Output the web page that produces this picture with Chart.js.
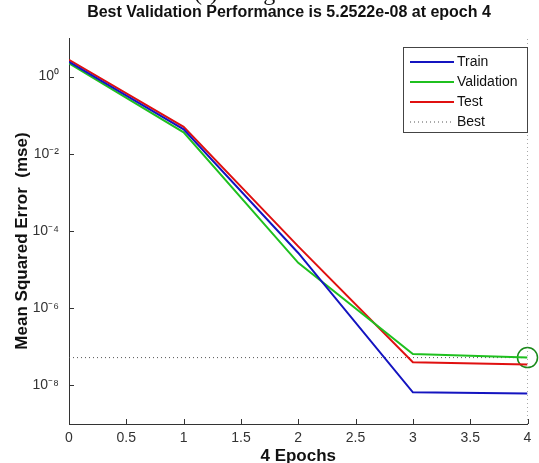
<!DOCTYPE html>
<html>
<head>
<meta charset="utf-8">
<script src="https://cdn.jsdelivr.net/npm/chart.js@4.4.1/dist/chart.umd.min.js"></script>
<style>
  html, body { margin: 0; padding: 0; background: #fff; overflow: hidden; }
  #wrap { width: 539px; height: 463px; position: relative; }
  #perfChart { display: block; }
</style>
</head>
<body>
<div id="wrap"><canvas id="perfChart"></canvas></div>
<script>
  // values
  const epochs = [0, 1, 2, 3, 4];
  const trainMse = [2.4, 0.043, 2.7e-5, 6.6e-9, 6.2e-9];
  const validationMse = [2.2, 0.036, 1.5e-5, 6.5e-8, 5.2522e-8];
  const testMse = [2.7, 0.05, 4.0e-5, 4.0e-8, 3.5e-8];
  const bestEpoch = 4;
  const bestPerf = 5.2522e-8;
  const xTicks = [0, 0.5, 1, 1.5, 2, 2.5, 3, 3.5, 4];
  const yTicks = [1e-8, 1e-6, 1e-4, 1e-2, 1];
  const yTickLabels = ["10⁻⁸", "10⁻⁶", "10⁻⁴", "10⁻²", "10⁰"];

  const toPoints = (xs, ys) => xs.map((x, i) => ({ x: x, y: ys[i] }));

  const FONT = "'Liberation Sans', Arial, sans-serif";
  const colors = {
    train: "#1414c0",
    validation: "#1fc01f",
    test: "#e01010",
    best: "#555555"
  };

  // inward tick marks like matlab
  const innerTicks = {
    id: "innerTicks",
    afterDatasetsDraw(chart) {
      const { ctx, chartArea, scales } = chart;
      ctx.save();
      ctx.strokeStyle = "#333";
      ctx.lineWidth = 1;
      ctx.beginPath();
      xTicks.forEach(v => {
        const px = Math.round(scales.x.getPixelForValue(v)) + 0.5;
        ctx.moveTo(px, chartArea.bottom);
        ctx.lineTo(px, chartArea.bottom - 5);
      });
      yTicks.forEach(v => {
        const py = Math.round(scales.y.getPixelForValue(v)) + 0.5;
        ctx.moveTo(chartArea.left, py);
        ctx.lineTo(chartArea.left + 5, py);
      });
      ctx.stroke();
      ctx.restore();
    }
  };

  // boxed legend, titles and the cut-off caption at the very top
  const extras = {
    id: "extras",
    afterDraw(chart) {
      const ctx = chart.ctx;
      const items = chart.data.datasets.filter(d => d.label);
      const left = 403, top = 47, right = 527, bottom = 132;
      ctx.save();
      ctx.fillStyle = "#fff";
      ctx.fillRect(left, top, right - left, bottom - top);
      ctx.strokeStyle = "#444";
      ctx.lineWidth = 1;
      ctx.strokeRect(left + 0.5, top + 0.5, right - left, bottom - top);
      ctx.font = "14px " + FONT;
      ctx.textBaseline = "middle";
      ctx.fillStyle = "#111";
      items.forEach((d, i) => {
        const y = 62 + i * 20;
        ctx.beginPath();
        ctx.strokeStyle = d.borderColor;
        ctx.lineWidth = d.borderDash ? 1 : 2;
        ctx.setLineDash(d.borderDash || []);
        ctx.moveTo(410, y);
        ctx.lineTo(454, y);
        ctx.stroke();
        ctx.setLineDash([]);
        ctx.fillText(d.label, 457, y);
      });

      ctx.textAlign = "center";
      ctx.font = "bold 16px " + FONT;
      ctx.fillText("Best Validation Performance is 5.2522e-08 at epoch 4", 289, 13);

      ctx.save();
      ctx.translate(22, 241);
      ctx.rotate(-Math.PI / 2);
      ctx.font = "bold 17px " + FONT;
      ctx.fillText("Mean Squared Error  (mse)", 0, 0);
      ctx.restore();

      ctx.font = "24px 'Liberation Serif', 'Times New Roman', serif";
      ctx.textBaseline = "alphabetic";
      ctx.fillText("(f)Using CGD", 263, 0);
      ctx.restore();
    }
  };

  new Chart(document.getElementById("perfChart"), {
    type: "line",
    data: {
      datasets: [
        {
          label: "Train",
          data: toPoints(epochs, trainMse),
          borderColor: colors.train,
          borderWidth: 2,
          pointRadius: 0,
          tension: 0
        },
        {
          label: "Validation",
          data: toPoints(epochs, validationMse),
          borderColor: colors.validation,
          borderWidth: 2,
          pointRadius: 0,
          tension: 0
        },
        {
          label: "Test",
          data: toPoints(epochs, testMse),
          borderColor: colors.test,
          borderWidth: 2,
          pointRadius: 0,
          tension: 0
        },
        {
          label: "Best",
          data: [{ x: 0, y: bestPerf }, { x: bestEpoch, y: bestPerf }],
          borderColor: colors.best,
          borderWidth: 1,
          borderDash: [1, 3],
          pointRadius: 0
        },
        {
          data: [{ x: bestEpoch, y: 1e-9 }, { x: bestEpoch, y: 10 }],
          borderColor: colors.best,
          borderWidth: 1,
          borderDash: [1, 3],
          pointRadius: 0
        },
        {
          data: [{ x: bestEpoch, y: bestPerf }],
          showLine: false,
          pointRadius: 10,
          pointBorderWidth: 1.5,
          pointBorderColor: "#1a8a1a",
          pointBackgroundColor: "rgba(0,0,0,0)",
          clip: false
        }
      ]
    },
    options: {
      responsive: true,
      maintainAspectRatio: false,
      animation: false,
      layout: { padding: { top: 38, left: 0, right: 9, bottom: 0 } },
      plugins: {
        legend: { display: false },
        tooltip: { enabled: false },
        title: { display: false }
      },
      scales: {
        x: {
          type: "linear",
          min: 0,
          max: 4,
          afterBuildTicks: axis => { axis.ticks = xTicks.map(v => ({ value: v })); },
          afterFit: axis => { axis.height = 39; },
          grid: { display: false, drawTicks: false },
          border: { display: true, color: "#333", width: 1 },
          ticks: {
            padding: 6,
            color: "#333",
            font: { family: FONT, size: 14 },
            maxRotation: 0,
            callback: v => String(v)
          },
          title: {
            display: true,
            text: "4 Epochs",
            color: "#111",
            font: { family: FONT, size: 17, weight: "bold" },
            padding: { top: 0, bottom: -4 }
          }
        },
        y: {
          type: "logarithmic",
          min: 1e-9,
          max: 10,
          afterBuildTicks: axis => { axis.ticks = yTicks.map(v => ({ value: v })); },
          afterFit: axis => { axis.width = 69; },
          grid: { display: false, drawTicks: false },
          border: { display: true, color: "#333", width: 1 },
          ticks: {
            padding: 10,
            color: "#333",
            font: { family: FONT, size: 14 },
            callback: v => yTickLabels[yTicks.indexOf(v)] || ""
          }
        }
      }
    },
    plugins: [innerTicks, extras]
  });
</script>
</body>
</html>
